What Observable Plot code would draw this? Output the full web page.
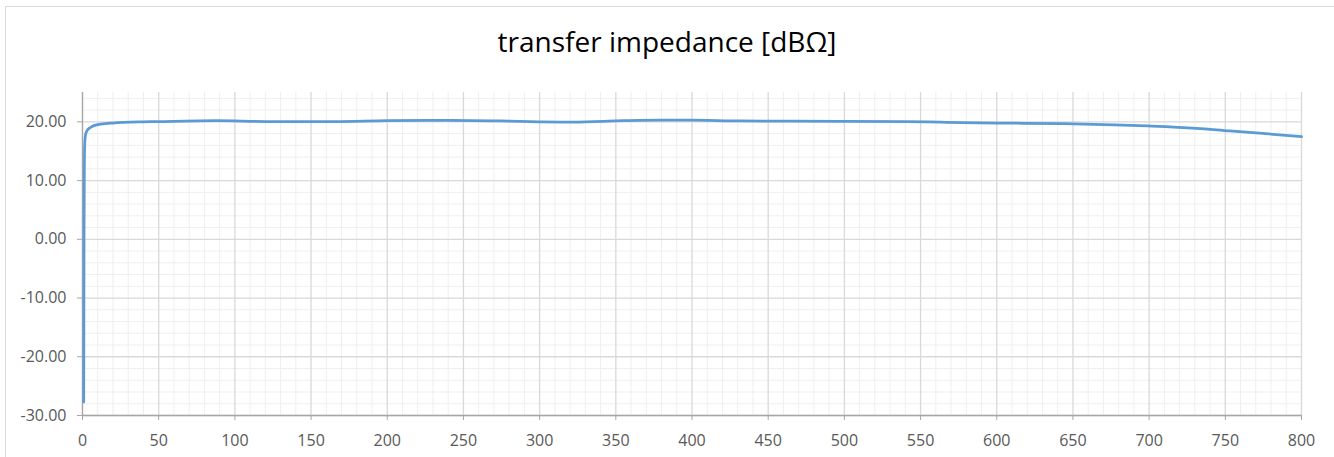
<!DOCTYPE html>
<html>
<head>
<meta charset="utf-8">
<script src="https://cdn.jsdelivr.net/npm/d3@7"></script>
<script src="https://cdn.jsdelivr.net/npm/@observablehq/plot@0.6"></script>
<style>
  html, body { margin: 0; padding: 0; background: #fff; }
  #wrap { position: relative; width: 1334px; height: 457px; overflow: hidden; }
  #frame { position: absolute; left: 5px; top: 6px; width: 1340px; height: 470px; border: 1px solid #d9d9d9; box-sizing: border-box; }
  #title { position: absolute; left: 0; top: 0; width: 1334px; height: 75px; box-sizing: border-box; padding-top: 22px; line-height: 38px; text-align: center; font-family: "Open Sans", sans-serif; font-size: 28px; color: #000; }
  #chart { position: absolute; left: 0; top: 75px; }
</style>
</head>
<body>
<div id="wrap">
  <div id="frame"></div>
  <div id="title">transfer impedance [dBΩ]</div>
  <div id="chart"></div>
</div>
<script>
const titleText = "transfer impedance [dBΩ]";
const freq = [0.8, 0.9, 1.0, 1.2, 1.5, 2, 3, 5, 8, 12, 20, 40, 50, 88, 121, 165, 200, 241, 274, 300, 322, 355, 380, 399, 432, 497, 541, 563, 600, 644, 677, 699, 731, 753, 766, 800];
const impedance = [-27.7, -15, 0, 12, 16.5, 17.8, 18.5, 19.0, 19.4, 19.6, 19.8, 20.0, 20.05, 20.2, 20.05, 20.05, 20.2, 20.25, 20.15, 20.0, 19.95, 20.2, 20.3, 20.3, 20.15, 20.1, 20.05, 19.95, 19.8, 19.7, 19.5, 19.3, 18.9, 18.45, 18.2, 17.5];
const xTicks = [0, 50, 100, 150, 200, 250, 300, 350, 400, 450, 500, 550, 600, 650, 700, 750, 800];
const yTicks = [-30, -20, -10, 0, 10, 20];

const data = freq.map((f, i) => ({f, z: impedance[i]}));
const xMinor = d3.range(0, 801, 10).filter(v => v % 50 !== 0);
const yMinor = d3.range(-30, 25.1, 2).filter(v => v % 10 !== 0);

const font = "'Open Sans', sans-serif";
const chart = Plot.plot({
  width: 1334,
  height: 382,
  marginLeft: 82,
  marginRight: 33,
  marginTop: 17,
  marginBottom: 42,
  style: {fontFamily: font, fontSize: "16px", color: "#595959", background: "transparent"},
  x: {domain: [0, 800]},
  y: {domain: [-30, 25]},
  marks: [
    Plot.ruleX(xMinor, {stroke: "#efefef", strokeWidth: 1}),
    Plot.ruleY(yMinor, {stroke: "#efefef", strokeWidth: 1}),
    Plot.ruleX(xTicks, {stroke: "#d9d9d9", strokeWidth: 1.3}),
    Plot.ruleY(yTicks, {stroke: "#d9d9d9", strokeWidth: 1.3}),
    Plot.axisX({ticks: xTicks, tickSize: 5, tickPadding: 14, stroke: "#a6a6a6", fill: "#595959", label: null, tickFormat: d => String(d)}),
    Plot.axisY({ticks: yTicks, tickSize: 5, tickPadding: 11, stroke: "#a6a6a6", fill: "#595959", label: null, tickFormat: d => d.toFixed(2)}),
    Plot.ruleX([0], {stroke: "#a6a6a6", strokeWidth: 1.3}),
    Plot.ruleY([-30], {stroke: "#a6a6a6", strokeWidth: 1.3}),
    Plot.line(data, {x: "f", y: "z", stroke: "#5b9bd5", strokeWidth: 2.75, curve: "monotone-x"})
  ]
});
document.getElementById("chart").appendChild(chart);
document.getElementById("title").textContent = titleText;
</script>
</body>
</html>
